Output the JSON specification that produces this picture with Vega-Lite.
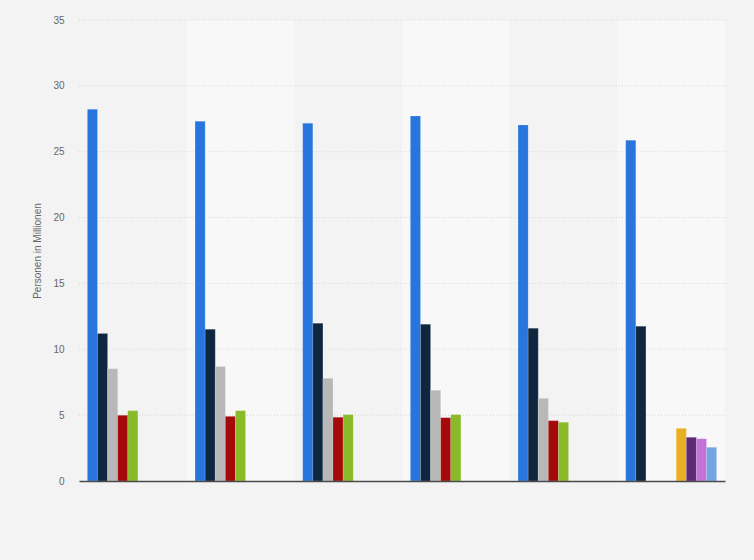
{
  "$schema": "https://vega.github.io/schema/vega-lite/v6.json",
  "width": 646,
  "height": 461,
  "autosize": "none",
  "padding": {"left": 79, "top": 20, "right": 29, "bottom": 79},
  "background": "#f3f3f3",
  "datasets": {
    "bars": [
      {"gruppe": "G1", "reihe": "s1", "wert": 28.22},
      {"gruppe": "G1", "reihe": "s2", "wert": 11.2},
      {"gruppe": "G1", "reihe": "s3", "wert": 8.53},
      {"gruppe": "G1", "reihe": "s4", "wert": 4.99},
      {"gruppe": "G1", "reihe": "s5", "wert": 5.34},
      {"gruppe": "G2", "reihe": "s1", "wert": 27.31},
      {"gruppe": "G2", "reihe": "s2", "wert": 11.52},
      {"gruppe": "G2", "reihe": "s3", "wert": 8.7},
      {"gruppe": "G2", "reihe": "s4", "wert": 4.91},
      {"gruppe": "G2", "reihe": "s5", "wert": 5.34},
      {"gruppe": "G3", "reihe": "s1", "wert": 27.16},
      {"gruppe": "G3", "reihe": "s2", "wert": 11.97},
      {"gruppe": "G3", "reihe": "s3", "wert": 7.8},
      {"gruppe": "G3", "reihe": "s4", "wert": 4.84},
      {"gruppe": "G3", "reihe": "s5", "wert": 5.04},
      {"gruppe": "G4", "reihe": "s1", "wert": 27.71},
      {"gruppe": "G4", "reihe": "s2", "wert": 11.9},
      {"gruppe": "G4", "reihe": "s3", "wert": 6.89},
      {"gruppe": "G4", "reihe": "s4", "wert": 4.81},
      {"gruppe": "G4", "reihe": "s5", "wert": 5.04},
      {"gruppe": "G5", "reihe": "s1", "wert": 27.03},
      {"gruppe": "G5", "reihe": "s2", "wert": 11.6},
      {"gruppe": "G5", "reihe": "s3", "wert": 6.28},
      {"gruppe": "G5", "reihe": "s4", "wert": 4.58},
      {"gruppe": "G5", "reihe": "s5", "wert": 4.46},
      {"gruppe": "G6", "reihe": "s1", "wert": 25.87},
      {"gruppe": "G6", "reihe": "s2", "wert": 11.75},
      {"gruppe": "G6", "reihe": "s6", "wert": 4.0},
      {"gruppe": "G6", "reihe": "s7", "wert": 3.32},
      {"gruppe": "G6", "reihe": "s8", "wert": 3.21},
      {"gruppe": "G6", "reihe": "s9", "wert": 2.56}
    ],
    "bands": [
      {"gruppe": "G2"},
      {"gruppe": "G4"},
      {"gruppe": "G6"}
    ],
    "grid": [
      {"y": 5}, {"y": 10}, {"y": 15}, {"y": 20}, {"y": 25}, {"y": 30}, {"y": 35}
    ]
  },
  "encoding": {
    "x": {
      "field": "gruppe",
      "type": "nominal",
      "scale": {"domain": ["G1", "G2", "G3", "G4", "G5", "G6"], "paddingInner": 0, "paddingOuter": 0},
      "axis": {
        "title": null,
        "labels": false,
        "ticks": false,
        "domainColor": "#4a4a4a",
        "domainWidth": 1.5
      }
    }
  },
  "layer": [
    {
      "data": {"name": "bands"},
      "mark": {"type": "rect", "color": "#f8f8f8"},
      "encoding": {
        "y": {"datum": 35, "type": "quantitative"},
        "y2": {"datum": 0}
      }
    },
    {
      "data": {"name": "grid"},
      "mark": {"type": "rule", "color": "#d6d6d6", "strokeDash": [1, 2], "strokeWidth": 1},
      "encoding": {
        "x": null,
        "y": {"field": "y", "type": "quantitative"}
      }
    },
    {
      "data": {"name": "bars"},
      "mark": {"type": "bar", "stroke": "#ffffff", "strokeOpacity": 0.25, "strokeWidth": 0.6},
      "encoding": {
        "xOffset": {
          "field": "reihe",
          "type": "nominal",
          "scale": {
            "domain": ["s1", "s2", "s3", "s4", "s5", "s6", "s7", "s8", "s9"],
            "paddingInner": 0,
            "paddingOuter": 0.83
          }
        },
        "y": {
          "field": "wert",
          "type": "quantitative",
          "scale": {"domain": [0, 35]},
          "axis": {
            "title": "Personen in Millionen",
            "values": [0, 5, 10, 15, 20, 25, 30, 35],
            "grid": false,
            "domain": false,
            "ticks": false,
            "labelPadding": 15,
            "labelColor": "#666666",
            "labelFontSize": 10,
            "titleColor": "#666666",
            "titleFontSize": 10,
            "titleFontWeight": "normal",
            "titlePadding": 10
          }
        },
        "color": {
          "field": "reihe",
          "type": "nominal",
          "scale": {
            "domain": ["s1", "s2", "s3", "s4", "s5", "s6", "s7", "s8", "s9"],
            "range": ["#2876dd", "#0f2640", "#b8b8b8", "#a50a0a", "#8aba28", "#e8b022", "#5e2a73", "#c272d9", "#74a5e3"]
          },
          "legend": null
        }
      }
    }
  ],
  "config": {
    "view": {"stroke": null},
    "font": "Liberation Sans"
  }
}
